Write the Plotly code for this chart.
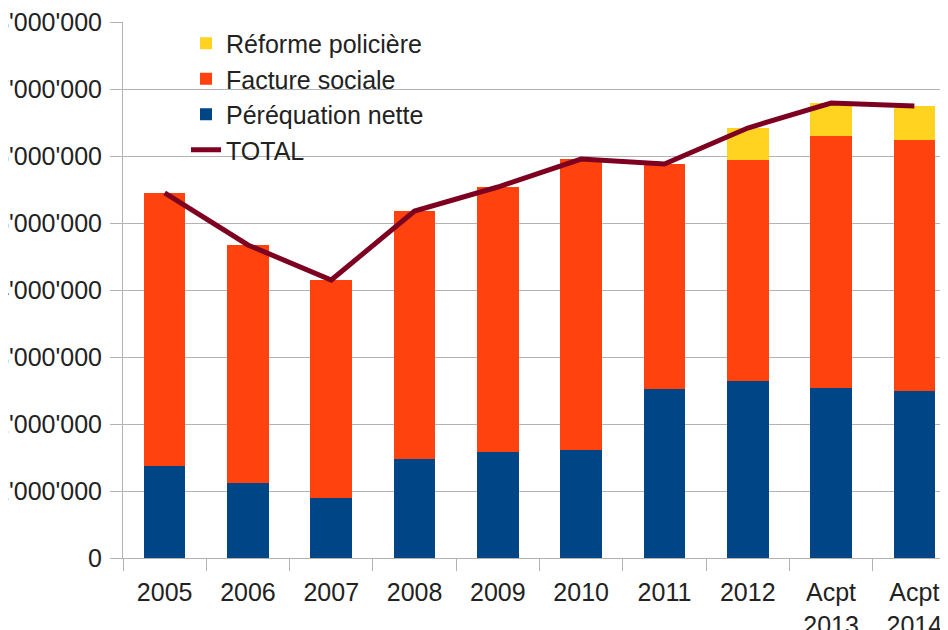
import plotly.graph_objects as go

categories = ["2005", "2006", "2007", "2008", "2009", "2010", "2011", "2012", "Acpt<br>2013", "Acpt<br>2014"]
perequation_nette = [1378000, 1119000, 900000, 1478000, 1587000, 1612000, 2522000, 2642000, 2537000, 2493000]
facture_sociale = [4070000, 3553000, 3249000, 3701000, 3950000, 4343000, 3359000, 3298000, 3762000, 3746000]
reforme_policiere = [0, 0, 0, 0, 0, 0, 0, 478000, 492000, 507000]
total = [5448000, 4672000, 4149000, 5179000, 5537000, 5955000, 5881000, 6418000, 6791000, 6746000]
y_ticks = [0, 1000000, 2000000, 3000000, 4000000, 5000000, 6000000, 7000000, 8000000]

FONT = "Liberation Sans"
GRID = "#b3b3b3"
TXT = "#222222"

fig = go.Figure()
fig.add_trace(go.Bar(x=categories, y=perequation_nette, name="Péréquation nette",
                     marker=dict(color="#004586", line=dict(width=0)), legendrank=3))
fig.add_trace(go.Bar(x=categories, y=facture_sociale, name="Facture sociale",
                     marker=dict(color="#ff420e", line=dict(width=0)), legendrank=2))
fig.add_trace(go.Bar(x=categories, y=reforme_policiere, name="Réforme policière",
                     marker=dict(color="#ffd320", line=dict(width=0)), legendrank=1))
fig.add_trace(go.Scatter(x=categories, y=total, name="TOTAL", mode="lines",
                         line=dict(color="#7e0021", width=5), legendrank=4))

L, T, B = 115, 14, 80
PW, PH = 948 - L, 630 - T - B

fig.update_layout(
    width=948, height=630,
    margin=dict(l=L, r=0, t=T, b=B, autoexpand=False),
    barmode="stack", bargap=0.5,
    plot_bgcolor="white", paper_bgcolor="white",
    separators=".'",
    font=dict(family=FONT, size=25, color=TXT),
    showlegend=True,
    legend=dict(x=63 / PW, xanchor="left", y=1 + 1.5 / PH, yanchor="top",
                bgcolor="rgba(0,0,0,0)", traceorder="normal",
                font=dict(size=25, family=FONT, color=TXT), tracegroupgap=0),
    xaxis=dict(type="category", range=[-0.5, 9.5], tickson="boundaries",
               ticks="outside", ticklen=12, tickcolor=GRID, tickwidth=1,
               showline=True, linecolor=GRID, linewidth=1, showgrid=False,
               ticklabelstandoff=12, ticklabeloverflow="allow",
               tickfont=dict(family=FONT, size=25, color=TXT), automargin=False),
    yaxis=dict(range=[0, 8000000], tickvals=y_ticks, tickformat=",d",
               ticks="outside", ticklen=12, tickcolor=GRID, tickwidth=1,
               showline=True, linecolor=GRID, linewidth=1,
               showgrid=True, gridcolor=GRID, gridwidth=1, zeroline=False,
               ticklabelstandoff=3, ticklabeloverflow="allow",
               tickfont=dict(family=FONT, size=25, color=TXT), automargin=False),
)

fig.write_html("out.html")
